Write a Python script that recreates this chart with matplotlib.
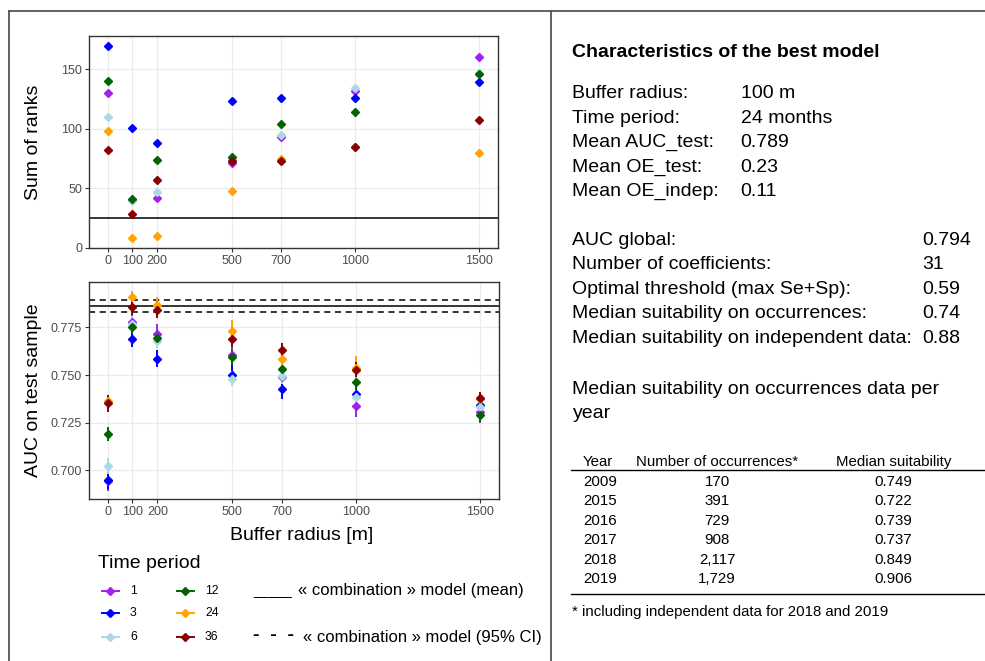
import matplotlib
matplotlib.use("Agg")
import matplotlib.pyplot as plt
from matplotlib.lines import Line2D

plt.rcParams['font.family'] = ['Liberation Sans', 'DejaVu Sans']

W, H = 985, 661

radius = [0, 100, 200, 500, 700, 1000, 1500]
periods = ['1', '3', '6', '12', '24', '36']
colors = ['#a020f0', '#0000ff', '#add8e6', '#006400', '#ffa500', '#8b0000']

# sum of ranks per time period (top panel)
ranks_1 = [130, 40, 42, 71, 93, 132, 160]
ranks_3 = [170, 101, 88, 123, 126, 126, 139]
ranks_6 = [110, 39, 47, 75, 95, 134, 147]
ranks_12 = [140, 41, 74, 76, 104, 114, 146]
ranks_24 = [98, 8, 10, 48, 75, 85, 80]
ranks_36 = [82, 28, 57, 73, 73, 85, 107]
ranks = [ranks_1, ranks_3, ranks_6, ranks_12, ranks_24, ranks_36]
rank_ref = 25

# mean AUC on test sample and half width of the interval (bottom panel)
auc_1 = [0.6944, 0.7780, 0.7718, 0.7604, 0.7490, 0.7337, 0.7307]
auc_3 = [0.6951, 0.7687, 0.7585, 0.7499, 0.7426, 0.7403, 0.7342]
auc_6 = [0.7023, 0.7770, 0.7680, 0.7480, 0.7494, 0.7384, 0.7333]
auc_12 = [0.7190, 0.7753, 0.7696, 0.7593, 0.7530, 0.7461, 0.7293]
auc_24 = [0.7366, 0.7909, 0.7869, 0.7731, 0.7582, 0.7538, 0.7372]
auc_36 = [0.7352, 0.7856, 0.7843, 0.7687, 0.7629, 0.7529, 0.7380]
aucs = [auc_1, auc_3, auc_6, auc_12, auc_24, auc_36]

err_1 = [0.005, 0.004, 0.005, 0.005, 0.005, 0.0056, 0.006]
err_3 = [0.005, 0.004, 0.0045, 0.0053, 0.0053, 0.005, 0.004]
err_6 = [0.004, 0.004, 0.004, 0.004, 0.004, 0.004, 0.004]
err_12 = [0.0035, 0.004, 0.004, 0.004, 0.0035, 0.004, 0.004]
err_24 = [0.003, 0.003, 0.004, 0.0057, 0.004, 0.006, 0.004]
err_36 = [0.0045, 0.004, 0.0045, 0.004, 0.0037, 0.004, 0.003]
errs = [err_1, err_3, err_6, err_12, err_24, err_36]

comb_mean = 0.7862
comb_ci = [0.7831, 0.7895]

best_model = [("Buffer radius:", "100 m"), ("Time period:", "24 months"),
              ("Mean AUC_test:", "0.789"), ("Mean OE_test:", "0.23"),
              ("Mean OE_indep:", "0.11")]
global_stats = [("AUC global:", "0.794"), ("Number of coefficients:", "31"),
                ("Optimal threshold (max Se+Sp):", "0.59"),
                ("Median suitability on occurrences:", "0.74"),
                ("Median suitability on independent data:", "0.88")]

years = ['2009', '2015', '2016', '2017', '2018', '2019']
n_occ = ['170', '391', '729', '908', '2,117', '1,729']
med_suit = ['0.749', '0.722', '0.739', '0.737', '0.849', '0.906']


def fx(x):
    return x / W


def fy(y):
    return 1 - y / H


def style_axes(ax):
    for s in ax.spines.values():
        s.set_color('#333333')
        s.set_linewidth(1.0)
    ax.grid(True, color='#ebebeb', lw=0.9)
    ax.set_axisbelow(True)
    ax.tick_params(colors='#333333', labelcolor='#4d4d4d', labelsize=9,
                   length=3, width=0.8, pad=2)
    ax.set_xlim(-75, 1575)
    ax.set_xticks(radius)
    ax.set_xticklabels([str(r) for r in radius])


fig = plt.figure(figsize=(W / 100, H / 100), dpi=100)

# top panel: sum of ranks
ax1 = fig.add_axes([fx(89), fy(248), (498 - 89) / W, (248 - 36) / H])
style_axes(ax1)
ax1.axhline(rank_ref, color='black', lw=1.1)
for vals, c in zip(ranks, colors):
    ax1.plot(radius, vals, 'D', ms=3.9, color=c, ls='none')
ax1.set_ylim(-0.2, 178)
ax1.set_yticks([0, 50, 100, 150])
ax1.set_ylabel('Sum of ranks', fontsize=14, va='center')
ax1.yaxis.set_label_coords((34 - 89) / 409, 0.5)

# bottom panel: AUC on test sample
ax2 = fig.add_axes([fx(89), fy(499.3), (499 - 89) / W, (499.3 - 281.7) / H])
style_axes(ax2)
ax2.axhline(comb_mean, color='black', lw=1.1)
for v in comb_ci:
    ax2.axhline(v, color='black', lw=1.1, ls=(0, (4, 3)))
for vals, e, c in zip(aucs, errs, colors):
    ax2.errorbar(radius, vals, yerr=e, fmt='D', ms=3.9, color=c,
                 elinewidth=1.4, capsize=0)
ax2.set_ylim(0.6848, 0.799)
ax2.set_yticks([0.700, 0.725, 0.750, 0.775])
ax2.set_yticklabels(['0.700', '0.725', '0.750', '0.775'])
ax2.set_ylabel('AUC on test sample', fontsize=14, va='center')
ax2.yaxis.set_label_coords((34 - 89) / 410, 0.5)
ax2.set_xlabel('Buffer radius [m]', fontsize=14, va='center')
ax2.xaxis.set_label_coords((302 - 89) / 410, (499.3 - 535) / 217.6)

# legend (time period)
fig.text(fx(98), fy(568), 'Time period', fontsize=14, va='baseline')
rows = [591, 613.3, 636.7]
for i, (lab, c) in enumerate(zip(periods, colors)):
    col, row = divmod(i, 3)
    x0 = 102 + col * 75
    y = rows[row]
    fig.add_artist(Line2D([fx(x0), fx(x0 + 16.5)], [fy(y), fy(y)],
                          color=c, lw=1.4, transform=fig.transFigure))
    fig.add_artist(Line2D([fx(x0 + 8.3)], [fy(y)], marker='D', ms=3.6,
                          color=c, transform=fig.transFigure))
    fig.text(fx(x0 + 28), fy(y), lab, fontsize=8.8, va='center')

fig.text(fx(253), fy(595), '_____', fontsize=10, va='baseline')
fig.text(fx(298), fy(595), '« combination » model (mean)', fontsize=12,
         va='baseline')
fig.text(fx(253), fy(640.5), '-  -  -', fontsize=14, va='baseline',
         fontweight='bold')
fig.text(fx(303), fy(642), '« combination » model (95% CI)', fontsize=12,
         va='baseline')

# right side: characteristics of the best model
fig.text(fx(572.5), fy(57.3), 'Characteristics of the best model',
         fontsize=14, fontweight='bold', va='baseline')
for i, (k, v) in enumerate(best_model):
    y = 98.3 + i * 24.4
    fig.text(fx(572.5), fy(y), k, fontsize=14, va='baseline')
    fig.text(fx(740.7), fy(y), v, fontsize=14, va='baseline')
for i, (k, v) in enumerate(global_stats):
    y = 245 + i * 24.4
    fig.text(fx(572.5), fy(y), k, fontsize=14, va='baseline')
    fig.text(fx(922.7), fy(y), v, fontsize=14, va='baseline')
fig.text(fx(572.5), fy(394), 'Median suitability on occurrences data per',
         fontsize=14, va='baseline')
fig.text(fx(572.5), fy(418.4), 'year', fontsize=14, va='baseline')

# table
tsize = 10.8
fig.text(fx(583), fy(466), 'Year', fontsize=tsize, va='baseline')
fig.text(fx(717), fy(466), 'Number of occurrences*', fontsize=tsize,
         va='baseline', ha='center')
fig.text(fx(894), fy(466), 'Median suitability', fontsize=tsize,
         va='baseline', ha='center')
for i in range(len(years)):
    y = 485.7 + i * 19.5
    fig.text(fx(583), fy(y), years[i], fontsize=tsize, va='baseline')
    fig.text(fx(717), fy(y), n_occ[i], fontsize=tsize, va='baseline',
             ha='center')
    fig.text(fx(893), fy(y), med_suit[i], fontsize=tsize, va='baseline',
             ha='center')
for y in (470, 594):
    fig.add_artist(Line2D([fx(570.7), fx(985)], [fy(y), fy(y)], color='black',
                          lw=1.0, transform=fig.transFigure))
fig.text(fx(572), fy(615.7), '* including independent data for 2018 and 2019',
         fontsize=tsize, va='baseline')

# outer frame
frame = dict(color='#555555', lw=1.3, transform=fig.transFigure)
fig.add_artist(Line2D([fx(9), fx(985)], [fy(11), fy(11)], **frame))
fig.add_artist(Line2D([fx(9), fx(9)], [fy(11), fy(661)], **frame))
fig.add_artist(Line2D([fx(551), fx(551)], [fy(11), fy(661)], **frame))

fig.savefig('out.png', dpi=100)
